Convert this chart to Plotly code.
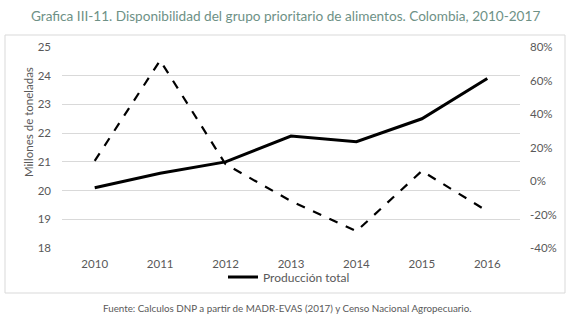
import plotly.graph_objects as go

years = ["2010", "2011", "2012", "2013", "2014", "2015", "2016"]
produccion = [20.1, 20.6, 21.0, 21.9, 21.7, 22.5, 23.9]
variacion = [12, 72, 10, -12, -30, 6, -18]  # percent

left_ticks = [18, 19, 20, 21, 22, 23, 24, 25]
right_ticks = [-40, -20, 0, 20, 40, 60, 80]
right_labels = [f"{v}%" for v in right_ticks]

FONT = "Lato"
TXT = "#595959"

fig = go.Figure()
fig.add_trace(go.Scatter(
    x=years, y=produccion, mode="lines", name="Producción total",
    line=dict(color="black", width=3), yaxis="y"))
fig.add_trace(go.Scatter(
    x=years, y=variacion, mode="lines", name="Variación",
    line=dict(color="black", width=2.2, dash="dash"), yaxis="y2",
    showlegend=False))

W, H = 571, 325
L, R, T, B = 62, 51, 47, 77
pw, ph = W - L - R, H - T - B

def px(x):
    return (x - L) / pw

def py(y):
    return (H - B - y) / ph

fig.update_layout(
    width=W, height=H,
    margin=dict(l=L, r=R, t=T, b=B),
    paper_bgcolor="white", plot_bgcolor="white",
    font=dict(family=FONT, color=TXT, size=11.5),
    xaxis=dict(type="category", range=[-0.5, 6.5], showgrid=False,
               showline=False, ticks="", tickfont=dict(size=11.5, color=TXT),
               ticklabelstandoff=7),
    yaxis=dict(range=[18, 25], tickvals=left_ticks, showgrid=True,
               gridcolor="#d9d9d9", gridwidth=1, zeroline=False,
               showline=False, ticks="", tickfont=dict(size=11.5, color=TXT),
               ticklabelstandoff=10),
    yaxis2=dict(range=[-40, 80], overlaying="y", side="right",
                tickvals=right_ticks, ticktext=right_labels, showgrid=False,
                zeroline=False, showline=False, ticks="",
                tickfont=dict(size=11.5, color=TXT), ticklabelstandoff=9),
    showlegend=True,
    legend=dict(orientation="h", x=px(223), y=py(277), xanchor="left",
                yanchor="middle", font=dict(size=12, color=TXT),
                bgcolor="rgba(0,0,0,0)", tracegroupgap=0),
    shapes=[dict(type="rect", xref="paper", yref="paper",
                 x0=px(5), x1=px(565), y0=py(293), y1=py(35),
                 line=dict(color="#d9d9d9", width=1), fillcolor="rgba(0,0,0,0)",
                 layer="below")],
    annotations=[
        dict(text="Grafica III-11. Disponibilidad del grupo prioritario de alimentos. Colombia, 2010-2017",
             xref="paper", yref="paper", x=px(285), y=py(16), xanchor="center",
             yanchor="middle", showarrow=False,
             font=dict(size=13.6, color="#6e9186", family=FONT)),
        dict(text="Millones de toneladas", xref="paper", yref="paper",
             x=px(28), y=py(122), xanchor="center", yanchor="middle",
             textangle=-90, showarrow=False, font=dict(size=11.5, color=TXT)),
        dict(text="Fuente: Calculos DNP a partir de MADR-EVAS (2017) y Censo Nacional Agropecuario.",
             xref="paper", yref="paper", x=px(287), y=py(308), xanchor="center",
             yanchor="middle", showarrow=False, font=dict(size=9.8, color=TXT)),
    ],
)

fig.write_html("out.html")
